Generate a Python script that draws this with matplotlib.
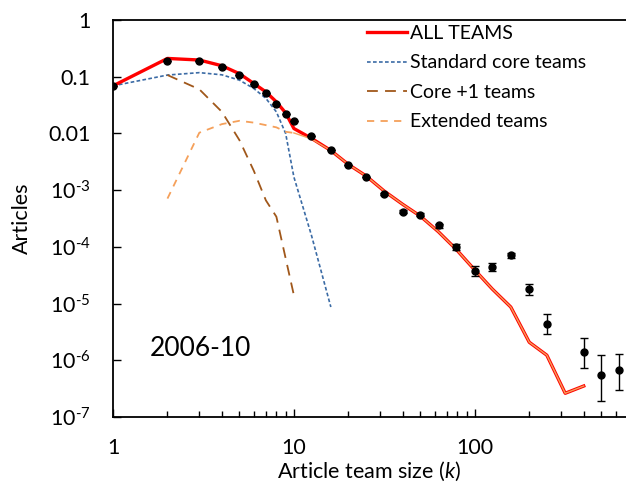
import numpy as np
import matplotlib.pyplot as plt

plt.rcParams['font.family'] = ['Lato', 'DejaVu Sans']
plt.rcParams['mathtext.fontset'] = 'custom'
plt.rcParams['mathtext.rm'] = 'Lato'
plt.rcParams['mathtext.it'] = 'Lato:italic'
plt.rcParams['mathtext.bf'] = 'Lato:bold'

# Data titik (ukuran tim k, jumlah artikel)
k_pts = [1, 2, 3, 4, 5, 6, 7, 8, 9, 10, 12.5, 16, 20, 25, 31.6, 40, 50, 63, 79,
         100, 125, 158, 200, 250, 400, 500, 630]
pts = [0.069, 0.191, 0.19, 0.148, 0.107, 0.073, 0.051, 0.033, 0.022, 0.0163,
       0.009, 0.00515, 0.00272, 0.00172, 8.5e-4, 4.2e-4, 3.67e-4, 2.38e-4, 9.9e-5,
       3.8e-5, 4.43e-5, 7.1e-5, 1.79e-5, 4.4e-6, 1.38e-6, 5.5e-7, 6.7e-7]
err_lo = [0] * 14 + [3.4e-5, 2.5e-5, 2.2e-5, 1.9e-5, 1.15e-5, 0.7e-5, 0.71e-5,
                     0.74e-5, 0.36e-5, 1.55e-6, 0.66e-6, 3.56e-7, 3.7e-7]
err_hi = [0] * 14 + [3.5e-5, 2.6e-5, 2.3e-5, 2.0e-5, 1.3e-5, 0.85e-5, 0.84e-5,
                     0.82e-5, 0.45e-5, 2.2e-6, 1.06e-6, 6.9e-7, 6.3e-7]

# Model: semua tim
k_all = [1, 2, 3, 4, 5, 6, 7, 8, 9, 10, 12.5, 16, 20, 25, 31.6, 40, 50, 63, 79,
         100, 125, 158, 200, 250, 316, 400]
all_teams = [0.069, 0.21, 0.197, 0.156, 0.113, 0.076, 0.054, 0.036, 0.023, 0.0122,
             0.0082, 0.005, 0.00284, 0.00179, 9.6e-4, 5.6e-4, 3.48e-4, 1.84e-4,
             9.0e-5, 3.9e-5, 1.8e-5, 8.7e-6, 2.08e-6, 1.23e-6, 2.62e-7, 3.52e-7]

# Tim inti standar
k_std = [1, 2, 3, 4, 5, 6, 7, 8, 9, 10, 12.5, 16]
std_core = [0.069, 0.107, 0.118, 0.108, 0.087, 0.062, 0.0415, 0.024, 0.010,
            0.0017, 1.6e-4, 8.7e-6]

# Inti +1
k_core1 = [2, 3, 4, 5, 6, 7, 8, 9, 10]
core1 = [0.107, 0.06, 0.024, 0.0076, 0.0022, 6.6e-4, 3.4e-4, 6.3e-5, 1.4e-5]

# Tim diperluas
k_ext = [2, 3, 4, 5, 6, 7, 8, 9, 10, 12.5, 16, 20, 25, 31.6, 40, 50, 63, 79,
         100, 125, 158, 200, 250, 316, 400]
extended = [7.1e-4, 0.0103, 0.0146, 0.0167, 0.0155, 0.014, 0.0128, 0.0107, 0.0102,
            0.0080, 0.005, 0.00284, 0.00179, 9.6e-4, 5.6e-4, 3.48e-4, 1.84e-4,
            9.0e-5, 3.9e-5, 1.8e-5, 8.7e-6, 2.08e-6, 1.23e-6, 2.62e-7, 3.52e-7]

y_ticks = [1, 0.1, 0.01, 1e-3, 1e-4, 1e-5, 1e-6, 1e-7]
y_labels = ['1', '0.1', '0.01', r'10$^{\text{-3}}$', r'10$^{\text{-4}}$',
            r'10$^{\text{-5}}$', r'10$^{\text{-6}}$', r'10$^{\text{-7}}$']
x_ticks = [1, 10, 100]
x_labels = ['1', '10', '100']

fig = plt.figure(figsize=(6.26, 4.87), dpi=100)
ax = fig.add_axes([113 / 626, 1 - 417 / 487, 1 - 113 / 626, 397 / 487])

ax.plot(k_all, all_teams, color='#ff0000', lw=2.4, label='ALL TEAMS', zorder=3)
ax.plot(k_std, std_core, color='#3b6ba5', lw=1.2, dashes=(2.2, 1.4),
        label='Standard core teams', zorder=2)
ax.plot(k_core1, core1, color='#a0571a', lw=1.3, dashes=(6, 4),
        label='Core +1 teams', zorder=2)
# bagian awal putus-putus, bagian yang menumpuk garis merah tampak utuh
ax.plot(k_ext[:9], extended[:9], color='#f5a05a', lw=1.3, dashes=(4, 3.5),
        label='Extended teams', zorder=2)
ax.plot(k_ext[8:], extended[8:], color='#f5a05a', lw=1.0, zorder=4)

ax.errorbar(k_pts, pts, yerr=[err_lo, err_hi], fmt='o', color='black', ms=5,
            elinewidth=1, capsize=3, capthick=1, zorder=5)

ax.set_xscale('log')
ax.set_yscale('log')
ax.set_xlim(1, 685)
ax.set_ylim(1e-7, 1)

ax.set_yticks(y_ticks)
ax.set_yticklabels(y_labels)
ax.set_xticks(x_ticks)
ax.set_xticklabels(x_labels)
ax.yaxis.set_minor_locator(plt.NullLocator())
ax.tick_params(axis='both', which='major', direction='in', length=6, width=1,
               labelsize=15.5)
ax.tick_params(axis='y', pad=16)
ax.tick_params(axis='x', pad=15)
ax.tick_params(axis='x', which='minor', direction='in', length=4, width=1)

for s in ['left', 'bottom', 'top']:
    ax.spines[s].set_linewidth(1.3)
ax.spines['right'].set_visible(False)

ax.set_xlabel(r'Article team size ($\mathit{k}$)', fontsize=15.5, labelpad=1)
ax.set_ylabel('Articles', fontsize=15.5, labelpad=12)

ax.text(150, 487 - 349, '2006-10', transform=None, fontsize=19,
        va='center', ha='left')

ax.legend(loc='upper left', bbox_to_anchor=(367 / 626, 1 - 25 / 487),
          bbox_transform=fig.transFigure, frameon=False, fontsize=14,
          handlelength=2.05, handletextpad=0.15, labelspacing=0.64,
          borderpad=0, borderaxespad=0)

plt.savefig('out.png', dpi=100)
